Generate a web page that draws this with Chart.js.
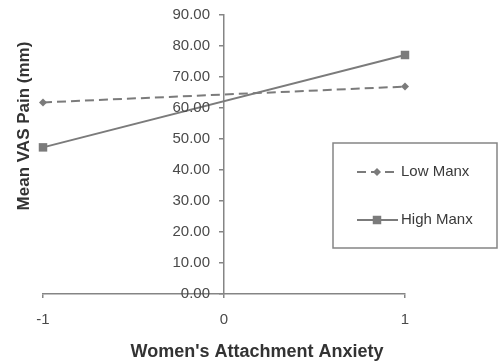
<!DOCTYPE html>
<html lang="en">
  <head>
    <meta charset="utf-8">
    <title>Mean VAS Pain by Women's Attachment Anxiety</title>
    <style>
      html, body { margin: 0; padding: 0; background: #fff; }
      #wrap { width: 500px; height: 364px; }
    </style>
  </head>
  <body>
    <div id="wrap"><canvas id="myChart"></canvas></div>

    <script src="https://cdn.jsdelivr.net/npm/chart.js@4.4.0/dist/chart.umd.min.js"></script>
    <script>
      // values
      const anxiety = [-1, 1];
      const lowManx = [61.8, 66.9];
      const highManx = [47.3, 77.1];
      const seriesNames = ['Low Manx', 'High Manx'];
      const xTitle = "Women's Attachment Anxiety";
      const yTitle = 'Mean VAS Pain (mm)';

      const lineGrey = '#7b7b7b';
      const axisGrey = '#858585';
      const textGrey = '#4a4a4a';
      const fontFamily = '"Liberation Sans", Arial, sans-serif';

      const toPoints = vals => vals.map((v, i) => ({ x: anxiety[i], y: v }));

      // the y axis sits at x = 0, chart.js puts its labels right on the line,
      // so the labels, titles and the boxed legend are drawn here
      const extras = {
        id: 'extras',
        afterDraw(chart) {
          const ctx = chart.ctx;
          const ys = chart.scales.y;
          const axisX = chart.scales.x.getPixelForValue(0);

          ctx.save();
          ctx.fillStyle = textGrey;
          ctx.font = '15px ' + fontFamily;
          ctx.textAlign = 'right';
          ctx.textBaseline = 'middle';
          ys.ticks.forEach(t => {
            ctx.fillText(t.value.toFixed(2), axisX - 14, ys.getPixelForValue(t.value));
          });

          ctx.fillStyle = '#333';
          ctx.font = 'bold 18px ' + fontFamily;
          ctx.textAlign = 'center';
          ctx.fillText(xTitle, 257, 352);

          ctx.translate(24, 126);
          ctx.rotate(-Math.PI / 2);
          ctx.font = 'bold 17px ' + fontFamily;
          ctx.fillText(yTitle, 0, 0);
          ctx.restore();

          // legend box
          ctx.save();
          ctx.strokeStyle = axisGrey;
          ctx.lineWidth = 1.5;
          ctx.strokeRect(333, 143, 164, 105);
          chart.data.datasets.forEach((ds, i) => {
            const y = i === 0 ? 172 : 220;
            ctx.strokeStyle = ds.borderColor;
            ctx.lineWidth = ds.borderWidth;
            ctx.setLineDash(ds.borderDash || []);
            ctx.beginPath();
            ctx.moveTo(357, y);
            ctx.lineTo(398, y);
            ctx.stroke();
            ctx.setLineDash([]);
            ctx.fillStyle = ds.pointBackgroundColor;
            const r = ds.pointRadius;
            ctx.beginPath();
            if (ds.pointStyle === 'rect') {
              const s = r * Math.SQRT1_2;
              ctx.rect(377 - s, y - s, 2 * s, 2 * s);
            } else {
              ctx.moveTo(377, y - r);
              ctx.lineTo(377 + r, y);
              ctx.lineTo(377, y + r);
              ctx.lineTo(377 - r, y);
              ctx.closePath();
            }
            ctx.fill();
            ctx.fillStyle = '#3a3a3a';
            ctx.font = '15px ' + fontFamily;
            ctx.textAlign = 'left';
            ctx.textBaseline = 'middle';
            ctx.fillText(ds.label, 401, y);
          });
          ctx.restore();
        }
      };

      const ctx = document.getElementById('myChart').getContext('2d');
      const chart = new Chart(ctx, {
        type: 'line',
        data: {
          datasets: [{
            label: seriesNames[0],
            data: toPoints(lowManx),
            borderColor: lineGrey,
            borderWidth: 2,
            borderDash: [9, 5],
            pointStyle: 'rectRot',
            pointRadius: 4,
            pointBackgroundColor: lineGrey,
            pointBorderWidth: 0,
            fill: false,
            clip: false,
            tension: 0
          }, {
            label: seriesNames[1],
            data: toPoints(highManx),
            borderColor: lineGrey,
            borderWidth: 2,
            pointStyle: 'rect',
            pointRadius: 6,
            pointBackgroundColor: lineGrey,
            pointBorderWidth: 0,
            fill: false,
            clip: false,
            tension: 0
          }]
        },
        options: {
          responsive: true,
          maintainAspectRatio: false,
          animation: false,
          layout: { padding: { left: 43, right: 95, top: 15, bottom: 22 } },
          plugins: {
            legend: { display: false },
            tooltip: { enabled: false }
          },
          scales: {
            x: {
              type: 'linear',
              min: -1,
              max: 1,
              grid: { drawOnChartArea: false, drawTicks: true, tickLength: 4, color: axisGrey, lineWidth: 1.5 },
              border: { display: true, color: axisGrey, width: 1.5 },
              ticks: {
                stepSize: 1,
                padding: 13,
                color: textGrey,
                font: { family: fontFamily, size: 15 }
              }
            },
            y: {
              position: { x: 0 },
              min: 0,
              max: 90,
              grid: { drawOnChartArea: false, drawTicks: true, tickLength: 4, color: axisGrey, lineWidth: 1.5 },
              border: { display: true, color: axisGrey, width: 1.5 },
              ticks: { stepSize: 10, display: false }
            }
          }
        },
        plugins: [extras]
      });
    </script>
  </body>
</html>
